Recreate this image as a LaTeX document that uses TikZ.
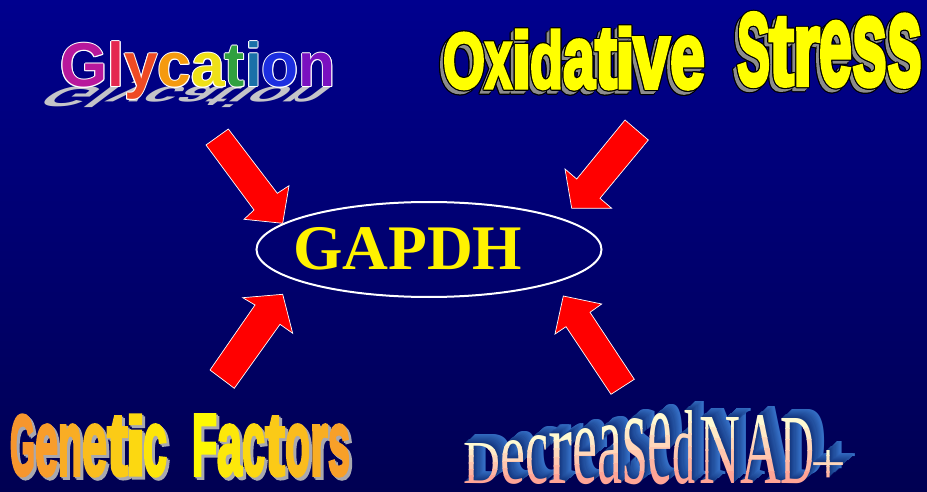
\documentclass[tikz,border=0pt]{standalone}
\usepackage{fontspec}
\usepackage{graphicx}
\setmainfont{Liberation Serif}
\newfontfamily\arialfam{Liberation Sans}
\newfontfamily\heavyfam{Liberation Sans}[BoldFeatures={FakeBold=4}]
\newfontfamily\timesfam{Liberation Serif}
\usetikzlibrary{shapes.geometric}

\definecolor{bgtop}{RGB}{0,0,142}
\definecolor{bgbot}{RGB}{0,0,82}
\definecolor{gG}{RGB}{184,24,156}
\definecolor{gl}{RGB}{228,40,80}
\definecolor{gy}{RGB}{238,74,36}
\definecolor{gc}{RGB}{245,154,16}
\definecolor{ga}{RGB}{238,224,24}
\definecolor{gt}{RGB}{48,160,64}
\definecolor{gi}{RGB}{26,112,168}
\definecolor{go}{RGB}{28,46,224}
\definecolor{gn}{RGB}{122,16,192}
\definecolor{reflgrey}{RGB}{196,196,200}
\definecolor{oxyellow}{RGB}{255,255,0}
\definecolor{oxshadow}{RGB}{140,140,140}
\definecolor{genor}{RGB}{247,150,46}
\definecolor{genyel}{RGB}{255,255,0}
\definecolor{genshadow}{RGB}{168,168,176}
\definecolor{dcream}{RGB}{255,250,210}
\definecolor{dpink}{RGB}{255,164,150}
\definecolor{extfar}{RGB}{52,110,196}
\definecolor{extnear}{RGB}{18,52,124}

\newcommand{\fitglyph}[3]{\resizebox{#1pt}{#2pt}{#3}}
\newcommand{\glytext}{{\color{gG}G}{\color{gl}l}{\color{gy}y}{\color{gc}c}{\color{ga}a}{\color{gt}t}{\color{gi}i}{\color{go}o}{\color{gn}n}}

\def\RingA{1.2/0,-1.2/0,0/1.2,0/-1.2,0.85/0.85,0.85/-0.85,-0.85/0.85,-0.85/-0.85}
\def\RingB{1/0,-1/0,0/1,0/-1,0.7/0.7,0.7/-0.7,-0.7/0.7,-0.7/-0.7}
\def\OxList{443/88/42/55/O, 485/88/27/45/x, 511/88/21/58/i, 530/88/33/58/d, 563/88/32/48/a, 595/88/22/58/t, 615/88/20/61/i, 633/88/37/50/v, 670/88/35/51/e, 737/85/33/72/S, 769/85/25/67/t, 793/85/27/57/r, 819/85/33/63/e, 852/85/35/67/s, 887/85/35/70/s}
\def\GenList{10/25/60/G, 35/23/50/e, 58/24/50/n, 82/25/50/e, 107/21/58/t, 125/21/60/i, 143/24/50/c, 192/25/60/F, 217/25/50/a, 242/23/50/c, 265/20/58/t, 285/25/50/o, 310/18/50/r, 328/22/50/s}
\def\DecList{463/37/40/D, 500/25/43/e, 525/23/48/c, 548/24/51/r, 572/25/55/e, 597/25/58/a, 622/25/65/s, 647/25/70/e, 672/23/73/d, 699/41/66/N, 740/41/68/A, 780/34/65/D, 810/36/33/+}

\tikzset{
  glyphnode/.style={anchor=base west, inner sep=0pt, outer sep=0pt},
  heavyglyph/.style={glyphnode, font={\heavyfam\bfseries\fontsize{50}{50}\selectfont}},
  decglyph/.style={glyphnode, font={\timesfam\fontsize{50}{50}\selectfont}},
  blockarrow/.style={fill=red, draw=white, line width=0.7pt, line join=miter},
}

\begin{document}
\begin{tikzpicture}[x=1pt,y=-1pt]
\useasboundingbox (0,0) rectangle (927,492);
\shade[top color=bgtop, bottom color=bgbot] (0,0) rectangle (927,492);

% ---------- Glycation ----------
\begin{scope}[shift={(60.3,87)}]
  \begin{scope}[cm={1,0,-0.62,-0.47,(0,0)}]
    \node[glyphnode, transform shape, text=reflgrey, font={\arialfam\bfseries\fontsize{62}{62}\selectfont}] (glyrefl) at (0,0) {\scalebox{0.975}[1]{Glycation}};
  \end{scope}
\end{scope}
\foreach \dx/\dy [count=\n] in \RingB {
  \node[glyphnode, text=white, font={\arialfam\bfseries\fontsize{62}{62}\selectfont}] (glyring\n) at (60.3+\dx,87+\dy) {\scalebox{0.975}[1]{Glycation}};
}
\node[glyphnode, font={\arialfam\bfseries\fontsize{62}{62}\selectfont}] (glycation) at (60.3,87) {\scalebox{0.975}[1]{\glytext}};

% ---------- Oxidative Stress ----------
\foreach \gx/\gb/\gw/\gh/\gc [count=\n] in \OxList {
  \foreach \dx/\dy in \RingA {
    \node[heavyglyph, text=black] (oxsr\n) at (\gx-4+\dx,\gb+4+\dy) {\fitglyph{\gw}{\gh}{\gc}};
  }
}
\foreach \gx/\gb/\gw/\gh/\gc [count=\n] in \OxList {
  \foreach \d in {4,3,2,1} {
    \node[heavyglyph, text=oxshadow] (oxsh\n) at (\gx-\d,\gb+\d) {\fitglyph{\gw}{\gh}{\gc}};
  }
}
\foreach \gx/\gb/\gw/\gh/\gc [count=\n] in \OxList {
  \foreach \dx/\dy in \RingA {
    \node[heavyglyph, text=black] (oxr\n) at (\gx+\dx,\gb+\dy) {\fitglyph{\gw}{\gh}{\gc}};
  }
}
\foreach \gx/\gb/\gw/\gh/\gc [count=\n] in \OxList {
  \node[heavyglyph, text=oxyellow] (ox\n) at (\gx,\gb) {\fitglyph{\gw}{\gh}{\gc}};
}

% ---------- Genetic Factors ----------
\foreach \gx/\gw/\gh/\gc [count=\n] in \GenList {
  \foreach \d in {3,1.5} {
    \node[heavyglyph, text=genshadow] (gensh\n) at (\gx+\d,475+\d) {\fitglyph{\gw}{\gh}{\gc}};
  }
}
\foreach \gx/\gw/\gh/\gc [count=\n] in \GenList {
  \pgfmathtruncatemacro\pp{max(0,100-abs(\gx+\gw/2-195)*0.62)}
  \node[heavyglyph, text=genyel!\pp!genor] (gen\n) at (\gx,475) {\fitglyph{\gw}{\gh}{\gc}};
}

% ---------- Decreased NAD+ ----------
\foreach \gx/\gw/\gh/\gc [count=\n] in \DecList {
  \foreach \k in {10,9,...,1} {
    \pgfmathtruncatemacro\q{10*\k}
    \node[decglyph, text=extfar!\q!extnear] (decx\n) at (\gx+1.2*\k,483-0.9*\k) {\fitglyph{\gw}{\gh}{\gc}};
  }
}
\foreach \gx/\gw/\gh/\gc [count=\n] in \DecList {
  \foreach \i in {0,...,5} {
    \pgfmathsetmacro\ya{\i==0 ? 483-\gh-10 : 483-\gh+\gh*\i/6-0.5}
    \pgfmathsetmacro\yb{\i==5 ? 492 : 483-\gh+\gh*(\i+1)/6}
    \pgfmathtruncatemacro\pp{100*\i/5}
    \begin{scope}
      \clip (\gx-6,\ya) rectangle (\gx+\gw+6,\yb);
      \node[decglyph, text=dpink!\pp!dcream] (dec\n) at (\gx,483) {\fitglyph{\gw}{\gh}{\gc}};
    \end{scope}
  }
}

% ---------- centre ----------
\node[ellipse, draw=white, line width=2pt, minimum width=345pt, minimum height=95pt, inner sep=0pt] (ring) at (429,249.5) {};
\node[glyphnode, text=yellow, font={\timesfam\bfseries\fontsize{63.5}{63.5}\selectfont}] (gapdh) at (293,269) {GAPDH};

% ---------- arrows ----------
\draw[blockarrow] (206,145) -- (228.3,129) -- (277.3,193.3) -- (289,185.7) -- (282.7,223.3) -- (244,219.3) -- (254,210) -- cycle;
\draw[blockarrow] (625,120) -- (648.3,140) -- (600,198.3) -- (611.7,208.3) -- (571.7,208.3) -- (565,169) -- (576.7,179) -- cycle;
\draw[blockarrow] (282.7,294.3) -- (292.7,333.3) -- (280,324.3) -- (234.3,388.3) -- (210,370) -- (255,305) -- (242.7,297.7) -- cycle;
\draw[blockarrow] (563.3,296) -- (601.7,304) -- (590,312.3) -- (634.3,379.3) -- (611,394.3) -- (566,326.7) -- (555,334) -- cycle;
\end{tikzpicture}
\end{document}
